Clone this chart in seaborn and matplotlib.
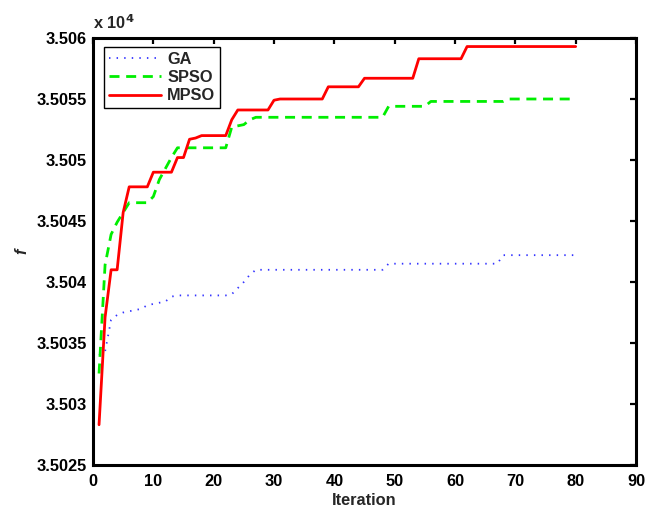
import numpy as np
import pandas as pd
import matplotlib
matplotlib.use("Agg")
import matplotlib.pyplot as plt
import seaborn as sns
from matplotlib.ticker import FixedLocator, FixedFormatter

iterations = list(range(1, 81))

ga = ([35034.0, 35034.3, 35036.9, 35037.3, 35037.5, 35037.6, 35037.7, 35037.8,
       35038.1, 35038.2, 35038.3, 35038.4, 35038.8]
      + [35038.9] * 9
      + [35039.0, 35039.5, 35040.0, 35040.6]
      + [35041.0] * 22
      + [35041.5] * 19
      + [35042.2] * 13)

spso = ([35032.5, 35041.4, 35043.9, 35044.9, 35045.7]
        + [35046.5] * 4
        + [35047.0, 35048.4, 35049.3, 35050.2]
        + [35051.0] * 9
        + [35052.7, 35052.8, 35052.9, 35053.3]
        + [35053.5] * 22
        + [35054.4] * 7
        + [35054.8] * 13
        + [35055.0] * 12)

mpso = ([35028.3, 35037.1, 35041.0, 35041.0, 35045.7]
        + [35047.8] * 4
        + [35049.0] * 4
        + [35050.2] * 2
        + [35051.7, 35051.8]
        + [35052.0] * 5
        + [35053.3]
        + [35054.1] * 6
        + [35054.9]
        + [35055.0] * 8
        + [35056.0] * 6
        + [35056.7] * 9
        + [35058.3] * 8
        + [35059.3] * 19)

series_names = ["GA", "SPSO", "MPSO"]
xticks = [0, 10, 20, 30, 40, 50, 60, 70, 80, 90]
yticks = [35025, 35030, 35035, 35040, 35045, 35050, 35055, 35060]
ytick_labels = ["3.5025", "3.503", "3.5035", "3.504", "3.5045", "3.505", "3.5055", "3.506"]

sns.set_style("white")
plt.rcParams['font.family'] = ['Liberation Sans', 'DejaVu Sans']
plt.rcParams['font.weight'] = 'bold'
FS = 11.8

fig = plt.figure(figsize=(6.57, 5.11), dpi=100)
ax = fig.add_axes([93/657, 1-465/511, (636-93)/657, (465-38)/511])

df = pd.DataFrame({"Iteration": iterations * 3,
                   "f": ga + spso + mpso,
                   "alg": sum([[n] * len(iterations) for n in series_names], [])})

styles = {
    "GA": dict(color="#3333ff", lw=1.3, ls=(0, (0.8, 3.4))),
    "SPSO": dict(color="#00ee00", lw=2.0, ls=(0, (3.6, 2.4))),
    "MPSO": dict(color="#ff0000", lw=2.0, ls="-"),
}
for name in series_names:
    sub = df[df["alg"] == name]
    st = styles[name]
    sns.lineplot(data=sub, x="Iteration", y="f", ax=ax, color=st["color"],
                 linewidth=st["lw"], linestyle=st["ls"], label=name,
                 estimator=None, sort=False)

ax.set_xlim(0, 90)
ax.set_ylim(35025, 35060)
ax.xaxis.set_major_locator(FixedLocator(xticks))
ax.yaxis.set_major_locator(FixedLocator(yticks))
ax.yaxis.set_major_formatter(FixedFormatter(ytick_labels))
ax.tick_params(direction='in', length=4, width=1.6, top=True, right=True,
               labelsize=FS, colors='black')
ax.tick_params(axis='y', pad=4.5)
ax.tick_params(axis='x', pad=6.5)
for lab in ax.get_xticklabels() + ax.get_yticklabels():
    lab.set_fontweight('bold')
for sp in ax.spines.values():
    sp.set_linewidth(2.2)
    sp.set_color('black')
    sp.set_visible(True)

ax.set_xlabel("Iteration", fontsize=FS, fontweight='bold', labelpad=3)
ax.set_ylabel("f", fontsize=FS, fontweight='bold', fontstyle='italic', labelpad=5)
ax.text(0.0, 1.015, "x 10$^{\\mathbf{4}}$", transform=ax.transAxes, ha='left', va='bottom',
        fontsize=FS, fontweight='bold')

leg = ax.legend(loc='upper left', bbox_to_anchor=(11/543, 1-9/427), fontsize=FS,
                frameon=True, fancybox=False, edgecolor='black', framealpha=1,
                handlelength=3.2, handletextpad=0.35, labelspacing=0.2,
                borderpad=0.3, borderaxespad=0)
leg.get_frame().set_linewidth(1.0)
for t in leg.get_texts():
    t.set_fontweight('bold')

fig.savefig("out.png", dpi=100)
